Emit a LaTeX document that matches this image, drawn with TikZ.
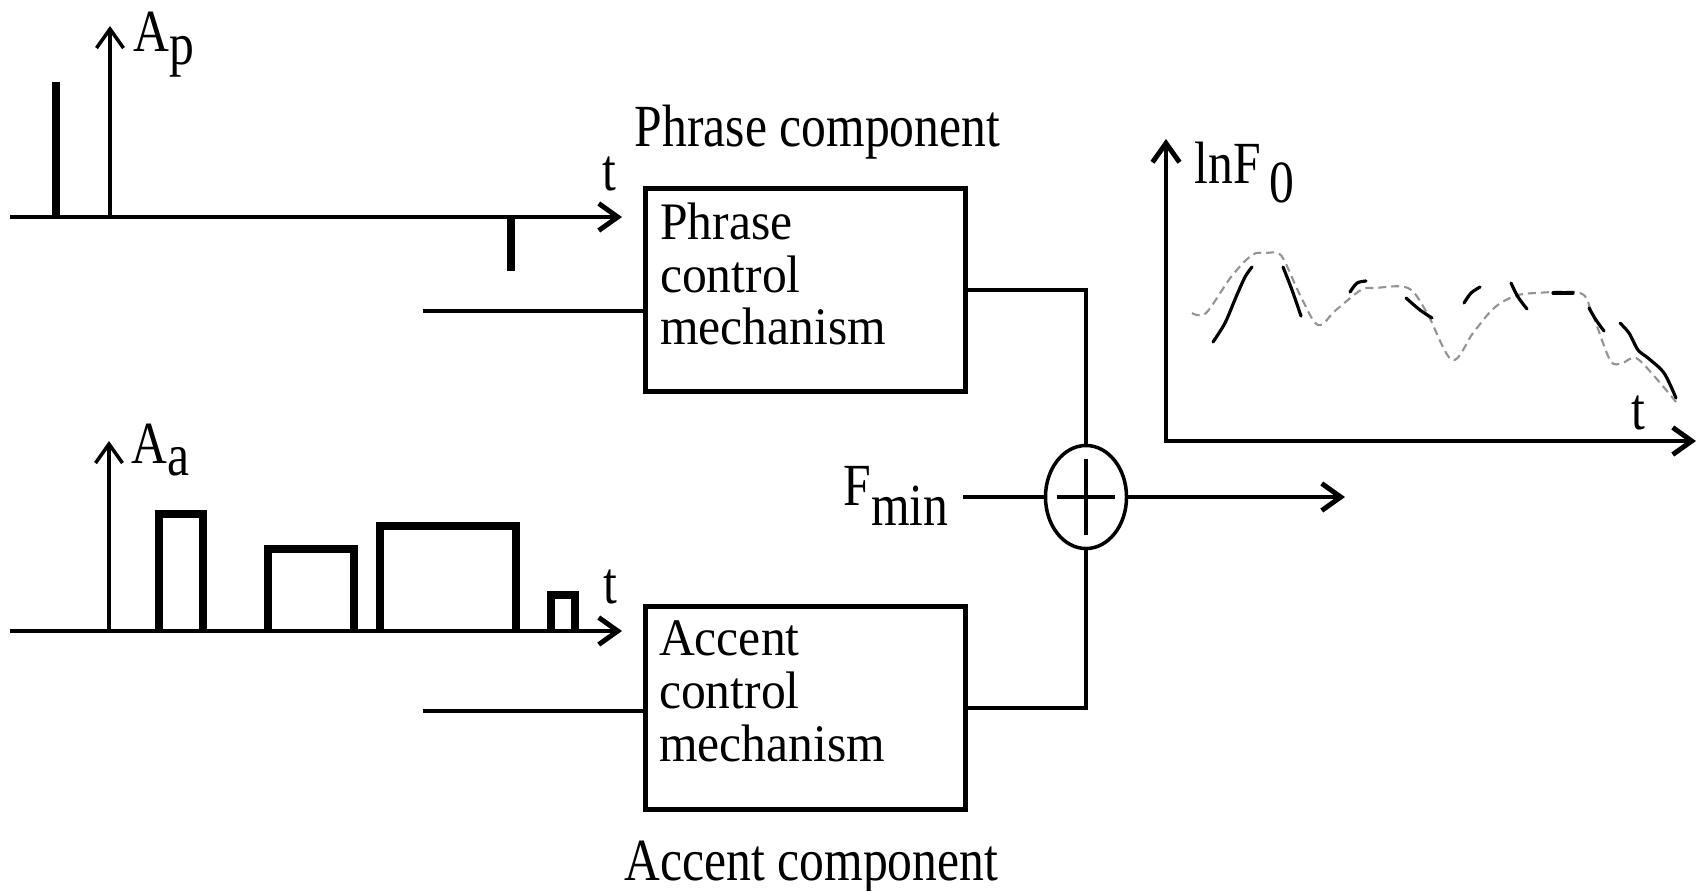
\documentclass[tikz,border=0pt]{standalone}
\usepackage{fontspec}
\setmainfont{Liberation Serif}[FakeStretch=0.83]
\newfontfamily\boxfont{Liberation Serif}[FakeStretch=0.94]
\usetikzlibrary{arrows.meta,positioning,shapes.geometric}

\begin{document}
\begin{tikzpicture}[
    x=0.01cm, y=-0.01cm,
    font=\fontsize{17}{17}\selectfont,
    openhead/.tip={Straight Barb[length=0.19cm, width=0.27cm]},
    box/.style={draw, line width=1.4pt, minimum width=3.2cm, minimum height=2.03cm, inner sep=0pt},
    boxtext/.style={align=left, inner sep=0pt, anchor=north west, font=\boxfont\fontsize{15}{15}\selectfont},
    lbl/.style={inner sep=0pt},
    wire/.style={line width=1.4pt},
    arrow/.style={-openhead},
    pulse/.style={line width=2.2pt},
    trace/.style={line width=0.9pt, line cap=round},
    contour/.style={gray!85, line width=0.6pt, dash pattern=on 0.08cm off 0.05cm}
]
\useasboundingbox (0,0) rectangle (1700,890);

% phrase commands
\draw[wire, arrow] (10,217) -- (622,217);
\draw[line width=1pt, arrow] (110,217) -- (110,26);
\draw[line width=2.5pt] (56,217) -- (56,82);
\draw[line width=2.3pt] (511,217) -- (511,271);
\node[lbl, anchor=base west] (ap) at (133,51) {A\raisebox{-0.13cm}{p}};
\node[lbl, anchor=base] (tp) at (609,190) {t};

% accent commands
\draw[wire, arrow] (10,631) -- (622,631);
\draw[line width=1pt, arrow] (109,631) -- (109,441);
\foreach \l/\r/\h in {159/203/514, 268/354/549, 380/516/526, 551/575/595}
    \draw[pulse] (\l,631) |- (\r,\h) -- (\r,631);
\node[lbl, anchor=base west] (aa) at (131,463) {A\raisebox{-0.12cm}{a}};
\node[lbl, anchor=base] (ta) at (610,603) {t};

\node[box] (phrase) at (805.5,290) {};
\node[boxtext] (phrasetxt) at ([xshift=0.165cm, yshift=-0.16cm]phrase.north west) {Phrase\\control\\mechanism};
\node[lbl, above=0.26cm of phrase, xshift=0.12cm] (phrasecomp) {Phrase component};

\node[box] (accent) at (805.5,708) {};
\node[boxtext] (accenttxt) at ([xshift=0.155cm, yshift=-0.16cm]accent.north west) {Accent\\control\\mechanism};
\node[lbl, below=0.28cm of accent, xshift=0.06cm] (accentcomp) {Accent component};

\coordinate (pin) at (423,311);
\coordinate (ain) at (423,711);
\draw[wire] (pin) -- (pin -| phrase.west);
\draw[wire] (ain) -- (ain -| accent.west);

\node[draw, ellipse, line width=1pt, minimum width=0.81cm, minimum height=1.03cm, inner sep=0pt] (sum) at (1086,497) {};
\draw[wire] ([xshift=-0.29cm]sum.center) -- ([xshift=0.29cm]sum.center);
\draw[wire] ([yshift=0.38cm]sum.center) -- ([yshift=-0.38cm]sum.center);
\draw[wire] (phrase.east) -| (sum.north);
\draw[wire] (accent.east) -| (sum.south);

\node[lbl, anchor=base west] (fmin) at (843,505) {F\raisebox{-0.2cm}{min}};
\draw[wire] ([xshift=0.14cm]fmin.east |- sum.west) -- (sum.west);
\coordinate (out) at (1345,497);
\draw[wire, arrow] (sum.east) -- (out);

% F0 contour
\draw[wire, openhead-openhead] (1166,139) -- (1166,441) -- (1696,441);
\node[lbl, anchor=base west] (lnf) at (1194,183) {lnF\hspace{0.09cm}\raisebox{-0.19cm}{0}};
\node[lbl, anchor=base] (tf) at (1638,429) {t};
\draw[contour] plot[smooth, tension=0.55] coordinates {(1192,313) (1206,313) (1231,277) (1252,255) (1266,253) (1278,253) (1285,262) (1301,297) (1318,325) (1336,310) (1361,290) (1375,288) (1408,288) (1427,313) (1452,360) (1473,333) (1494,308) (1515,296) (1536,293) (1580,293) (1592,313) (1610,360) (1622,363) (1636,358) (1655,377) (1676,402)};
\draw[trace] plot[smooth] coordinates {(1213,342) (1225,323) (1236,297) (1245,277) (1252,267)};
\draw[trace] plot[smooth] coordinates {(1283,267) (1292,290) (1301,316)};
\draw[trace] plot[smooth] coordinates {(1350,292) (1357,283) (1366,281)};
\draw[trace] plot[smooth] coordinates {(1406,298) (1420,310) (1432,318)};
\draw[trace] plot[smooth] coordinates {(1464,303) (1471,293) (1480,287)};
\draw[trace] plot[smooth] coordinates {(1511,283) (1518,297) (1527,309)};
\draw[trace] (1553,293) -- (1573,293);
\draw[trace] plot[smooth] coordinates {(1589,308) (1596,320) (1604,331)};
\draw[trace] plot[smooth] coordinates {(1620,323) (1629,333) (1638,350) (1648,358) (1664,373) (1676,398)};
\end{tikzpicture}
\end{document}
